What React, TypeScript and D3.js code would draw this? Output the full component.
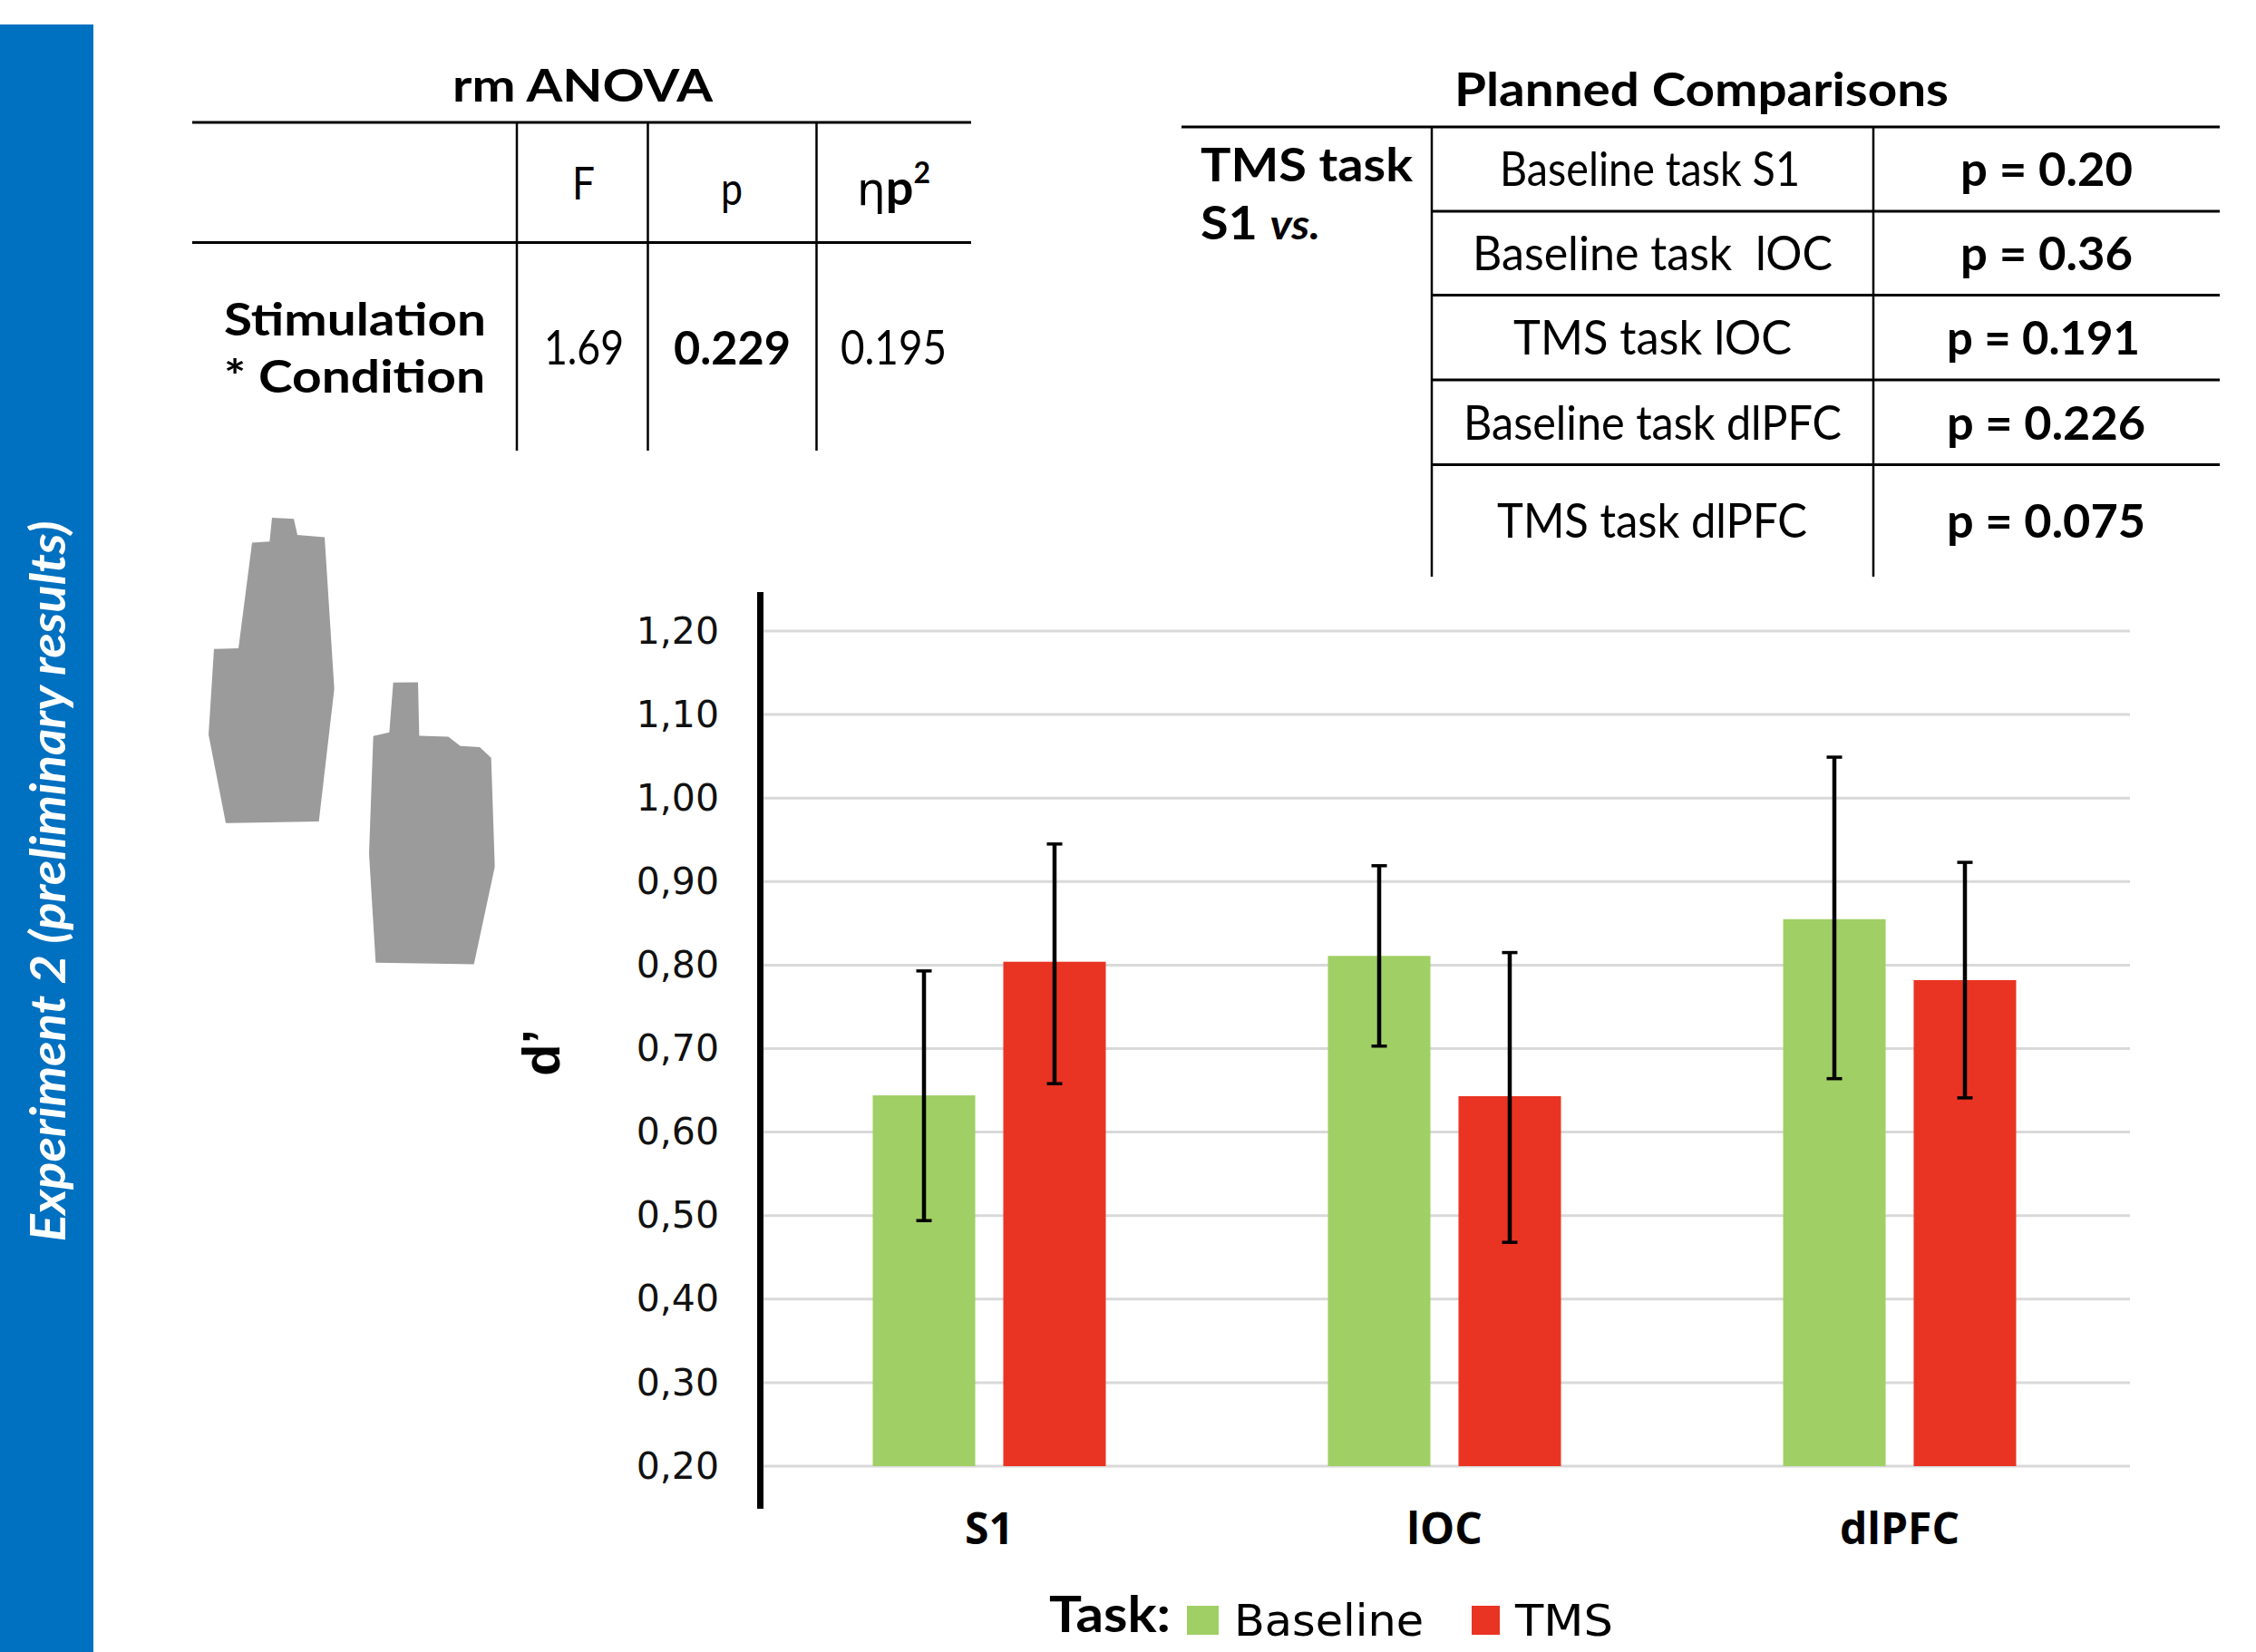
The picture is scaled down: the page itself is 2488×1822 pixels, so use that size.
import { useEffect, useRef } from 'react';
import * as d3 from 'd3';

const W = 2488;
const H = 1822;

// chart data
const categories = ['S1', 'lOC', 'dlPFC'];
const seriesNames = ['Baseline', 'TMS'];
const baselineValues = [0.644, 0.811, 0.855];
const tmsValues = [0.804, 0.643, 0.782];
const baselineErrLow = [0.494, 0.703, 0.664];
const baselineErrHigh = [0.793, 0.919, 1.049];
const tmsErrLow = [0.658, 0.468, 0.641];
const tmsErrHigh = [0.945, 0.815, 0.923];
const yTicks = [0.2, 0.3, 0.4, 0.5, 0.6, 0.7, 0.8, 0.9, 1.0, 1.1, 1.2];

// planned comparisons table
const comparisonLabels = ['Baseline task S1', 'Baseline task  lOC', 'TMS task lOC', 'Baseline task dlPFC', 'TMS task dlPFC'];
const comparisonPs = ['p = 0.20', 'p = 0.36', 'p = 0.191', 'p = 0.226', 'p = 0.075'];
const comparisonBaselines = [205, 298, 391, 485, 593];
const comparisonLabelX = [[1654, 1985], [1624, 2021], [1669, 1976], [1614, 2031], [1651, 1993]];
const comparisonPX = [[2162, 2352], [2162, 2352], [2147, 2360], [2147, 2366], [2147, 2366]];
const comparisonRules = [233, 325.5, 419, 512.5];

// hand outlines (in zoomed crop units, see hand())
const handLeft = [[300, 87], [372, 90], [384, 140], [474, 147], [506, 615], [455, 1025], [147, 1030], [90, 757], [108, 492], [189, 490], [234, 164], [292, 160]];
const handRight = [[701, 596], [783, 595], [787, 760], [883, 763], [923, 792], [987, 795], [1025, 828], [1037, 1165], [968, 1466], [643, 1461], [621, 1125], [635, 761], [688, 750]];

const GILL = 'Lato, "Noto Sans", sans-serif';
const GREEN = '#a0cf65';
const RED = '#e93423';

const y = d3.scaleLinear().domain([0.2, 1.2]).range([1617, 696]);
const x0 = d3.scaleBand().domain(categories).range([840, 2346]);
const x1 = d3.scaleBand().domain(seriesNames).range([0, 257]).paddingInner(0.215);

const hand = (pts: number[][]) =>
  d3.line()(pts.map(([a, b]) => [200 + a / 3, 540 + b / 2.8]) as [number, number][]) + 'Z';

// text squeezed between two x positions, the Gill Sans of the original is not installed
function Fit({ from, to, y: yy, bold, size = 50, family = GILL, children }: any) {
  return (
    <text
      x={from}
      y={yy}
      textLength={to - from}
      lengthAdjust="spacingAndGlyphs"
      fontFamily={family}
      fontSize={size}
      fontWeight={bold ? 700 : 400}
      fill="#000"
      xmlSpace="preserve"
    >
      {children}
    </text>
  );
}

export default function App() {
  const axisRef = useRef<SVGGElement>(null);
  const catRef = useRef<SVGGElement>(null);

  useEffect(() => {
    const axis = d3.axisLeft(y)
      .tickValues(yTicks)
      .tickSize(0)
      .tickPadding(45)
      .tickFormat((d) => d3.format('.2f')(d as number).replace('.', ','));
    const g = d3.select(axisRef.current);
    g.call(axis as any);
    g.select('.domain').remove();
    g.selectAll('text')
      .attr('font-family', '"DejaVu Sans", sans-serif')
      .attr('font-size', 41)
      .attr('fill', '#111');

    const bottom = d3.axisBottom(x0).tickSize(0).tickPadding(52);
    const c = d3.select(catRef.current);
    c.call(bottom as any);
    c.select('.domain').remove();
    c.selectAll('text')
      .attr('font-family', '"Open Sans", sans-serif')
      .attr('font-size', 48)
      .attr('font-weight', 700)
      .attr('fill', '#000');
  }, []);

  const series = [
    { name: 'Baseline', values: baselineValues, low: baselineErrLow, high: baselineErrHigh, color: GREEN },
    { name: 'TMS', values: tmsValues, low: tmsErrLow, high: tmsErrHigh, color: RED },
  ];

  return (
    <svg width={W} height={H} viewBox={`0 0 ${W} ${H}`} style={{ position: 'absolute', left: 0, top: 0, display: 'block' }}>
      <rect width={W} height={H} fill="#fff" />

      {/* side band */}
      <rect x={0} y={27} width={103} height={H - 27} fill="#0070c0" />
      <text
        transform="translate(72,972) rotate(-90)"
        textAnchor="middle"
        fontFamily={GILL}
        fontSize={53}
        fontWeight={700}
        fontStyle="italic"
        fill="#fff"
        textLength={795}
        lengthAdjust="spacingAndGlyphs"
      >
        Experiment 2 (preliminary results)
      </text>

      {/* rm ANOVA table */}
      <Fit from={499} to={786} y={112} bold>rm ANOVA</Fit>
      <g stroke="#000">
        <line x1={212} x2={1071} y1={135} y2={135} strokeWidth={3} />
        <line x1={212} x2={1071} y1={267.5} y2={267.5} strokeWidth={3} />
        {[570, 714.5, 900.5].map((vx) => (
          <line key={vx} x1={vx} x2={vx} y1={135} y2={497} strokeWidth={2.5} />
        ))}
      </g>
      <Fit from={631} to={656} y={220}>F</Fit>
      <Fit from={795} to={819} y={226}>p</Fit>
      <text x={945} y={226} fontSize={54} fontFamily={GILL} fill="#000">
        <tspan fontFamily='"DejaVu Sans", sans-serif' fontSize={50}>η</tspan>
        <tspan fontWeight={700}>p</tspan>
        <tspan fontWeight={700} fontSize={32} dy={-24}>2</tspan>
      </text>
      <Fit from={247} to={536} y={370} bold>Stimulation</Fit>
      <Fit from={247} to={535} y={433} bold>* Condition</Fit>
      <Fit from={600} to={688} y={402} size={52}>1.69</Fit>
      <Fit from={743} to={872} y={402} bold size={52}>0.229</Fit>
      <Fit from={927} to={1044} y={402} size={52}>0.195</Fit>

      {/* planned comparisons table */}
      <Fit from={1604} to={2149} y={117} bold size={52}>Planned Comparisons</Fit>
      <g stroke="#000">
        <line x1={1303} x2={2448} y1={140} y2={140} strokeWidth={3} />
        {comparisonRules.map((ry) => (
          <line key={ry} x1={1579} x2={2448} y1={ry} y2={ry} strokeWidth={3} />
        ))}
        {[1579, 2066].map((vx) => (
          <line key={vx} x1={vx} x2={vx} y1={140} y2={636} strokeWidth={2.5} />
        ))}
      </g>
      <Fit from={1324} to={1558} y={200} bold size={52}>TMS task</Fit>
      <Fit from={1324} to={1456} y={264} bold size={52}>
        S1 <tspan fontStyle="italic" fontSize={46}>vs.</tspan>
      </Fit>
      {comparisonLabels.map((label, i) => (
        <g key={label}>
          <Fit from={comparisonLabelX[i][0]} to={comparisonLabelX[i][1]} y={comparisonBaselines[i]} size={52}>{label}</Fit>
          <Fit from={comparisonPX[i][0]} to={comparisonPX[i][1]} y={comparisonBaselines[i]} bold size={52}>{comparisonPs[i]}</Fit>
        </g>
      ))}

      {/* hands */}
      <path d={hand(handLeft)} fill="#9b9b9b" />
      <path d={hand(handRight)} fill="#9b9b9b" />

      {/* grid */}
      <g stroke="#d9d9d9" strokeWidth={3}>
        {yTicks.map((t) => (
          <line key={t} x1={842} x2={2349} y1={y(t)} y2={y(t)} />
        ))}
      </g>

      {/* bars and error bars */}
      {categories.map((cat, i) => (
        <g key={cat} transform={`translate(${x0(cat)! + (x0.bandwidth() - 257) / 2},0)`}>
          {series.map((s) => {
            const bx = x1(s.name)!;
            const cx = bx + x1.bandwidth() / 2;
            return (
              <g key={s.name}>
                <rect x={bx} y={y(s.values[i])} width={x1.bandwidth()} height={y(0.2) - y(s.values[i])} fill={s.color} />
                <g stroke="#000">
                  <line x1={cx} x2={cx} y1={y(s.high[i])} y2={y(s.low[i])} strokeWidth={4.5} />
                  <line x1={cx - 8.5} x2={cx + 8.5} y1={y(s.high[i])} y2={y(s.high[i])} strokeWidth={3.5} />
                  <line x1={cx - 8.5} x2={cx + 8.5} y1={y(s.low[i])} y2={y(s.low[i])} strokeWidth={3.5} />
                </g>
              </g>
            );
          })}
        </g>
      ))}

      {/* axes */}
      <line x1={838.5} x2={838.5} y1={653} y2={1664} stroke="#000" strokeWidth={7} />
      <g ref={axisRef} transform="translate(838,0)" />
      <g ref={catRef} transform="translate(0,1617)" />
      <text
        transform="translate(617,1161) rotate(-90)"
        textAnchor="middle"
        fontFamily='"Liberation Sans", sans-serif'
        fontSize={58}
        fontWeight={700}
        fill="#000"
      >
        d’
      </text>

      {/* legend */}
      <Fit from={1157} to={1291} y={1800} bold size={56}>Task:</Fit>
      <rect x={1309} y={1771} width={35} height={32} fill={GREEN} />
      <Fit from={1361} to={1570} y={1804} size={48} family='"DejaVu Sans", sans-serif'>{seriesNames[0]}</Fit>
      <rect x={1623} y={1771} width={31} height={32} fill={RED} />
      <Fit from={1671} to={1779} y={1804} size={48} family='"DejaVu Sans", sans-serif'>{seriesNames[1]}</Fit>
    </svg>
  );
}
